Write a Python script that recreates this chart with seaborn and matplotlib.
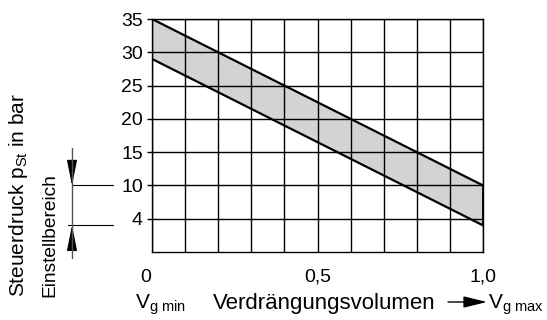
import numpy as np
import pandas as pd
import matplotlib
matplotlib.use("Agg")
import matplotlib.pyplot as plt
import matplotlib.transforms as mtransforms
from matplotlib.ticker import MultipleLocator, NullLocator, FixedLocator
import seaborn as sns

# Relative displacement V_g / V_g max
displacement = [0.0, 1.0]
# Control pressure band (bar): upper and lower limit
pressure_upper = [35.0, 10.0]
pressure_lower = [29.0, 3.2]

y_ticks = [4, 10, 15, 20, 25, 30, 35]
x_ticks = [0.0, 0.5, 1.0]
x_tick_labels = ["0", "0,5", "1,0"]

sns.set_theme(style="white")
plt.rcParams["font.family"] = ["Liberation Sans", "DejaVu Sans"]
plt.rcParams["mathtext.fontset"] = "custom"
plt.rcParams["mathtext.rm"] = "Liberation Sans"
plt.rcParams["mathtext.it"] = "Liberation Sans:italic"
plt.rcParams["mathtext.bf"] = "Liberation Sans:bold"

TICK_FS = 14
CAP_FS = 16


# Pressure axis: equal spacing per grid row, 0..4 / 4..10 / 10..35 bar
def p_to_pos(p):
    p = np.asarray(p, dtype=float)
    return np.where(p >= 10, 2 + (p - 10) / 5,
                    np.where(p >= 4, 1 + (p - 4) / 6, p / 4))


def pos_to_p(s):
    s = np.asarray(s, dtype=float)
    return np.where(s >= 2, 10 + (s - 2) * 5,
                    np.where(s >= 1, 4 + (s - 1) * 6, s * 4))


W, H = 547, 320
fig = plt.figure(figsize=(W / 100, H / 100), dpi=100)
ax = fig.add_axes([152 / W, 1 - 252 / H, 331 / W, 233 / H])

ax.set_yscale("function", functions=(p_to_pos, pos_to_p))
ax.set_xlim(0, 1)
ax.set_ylim(0, 35)

band = pd.DataFrame({
    "V": displacement * 2,
    "p": pressure_upper + pressure_lower,
    "edge": ["upper"] * len(displacement) + ["lower"] * len(displacement),
})

ax.fill_between(displacement, pressure_lower, pressure_upper,
                color="#d3d3d3", lw=0, zorder=1)
sns.lineplot(data=band, x="V", y="p", units="edge", estimator=None,
             color="black", lw=1.6, ax=ax, zorder=3, legend=False)
# closing edge of the band at full displacement
ax.plot([displacement[-1], displacement[-1]],
        [pressure_lower[-1], pressure_upper[-1]],
        color="black", lw=2.0, zorder=3, solid_capstyle="butt")

# grid
ax.set_axisbelow(False)
ax.xaxis.set_major_locator(FixedLocator(x_ticks))
ax.set_xticklabels(x_tick_labels)
ax.xaxis.set_minor_locator(MultipleLocator(0.1))
ax.yaxis.set_major_locator(FixedLocator(y_ticks))
ax.set_yticklabels([str(t) for t in y_ticks])
ax.yaxis.set_minor_locator(NullLocator())
ax.grid(True, axis="x", which="both", color="black", lw=1.0)
ax.grid(True, axis="y", which="major", color="black", lw=1.0)

for s in ax.spines.values():
    s.set_color("black")
    s.set_linewidth(1.0)

ax.tick_params(axis="y", which="major", left=True, direction="out",
               length=3.5, width=1.0, color="black", pad=3,
               labelsize=TICK_FS, labelcolor="black")
ax.tick_params(axis="x", which="both", bottom=False, length=0, pad=12,
               labelsize=TICK_FS, labelcolor="black")
ax.set_xlabel("")
ax.set_ylabel("")
# the zero label sits a little left of the axis corner
first = ax.get_xticklabels()[0]
first.set_transform(first.get_transform()
                    + mtransforms.ScaledTranslation(-0.06, 0, fig.dpi_scale_trans))

# axis captions
base_y = 1 - 309 / H
fig.text(135 / W, base_y, r"V$_{\mathrm{g\ min}}$", fontsize=CAP_FS - 1,
         ha="left", va="baseline", color="black")
fig.text(213 / W, base_y, "Verdrängungsvolumen", fontsize=CAP_FS,
         ha="left", va="baseline", color="black")
fig.text(488 / W, base_y, r"V$_{\mathrm{g\ max}}$", fontsize=CAP_FS - 1,
         ha="left", va="baseline", color="black")
fig.patches.append(matplotlib.patches.FancyArrowPatch(
    (448 / W, 1 - 302 / H), (487 / W, 1 - 302 / H),
    transform=fig.transFigure, arrowstyle="-|>,head_length=0.9,head_width=0.22",
    mutation_scale=16, color="black", lw=1.0, shrinkA=0, shrinkB=0))

fig.text(24 / W, 1 - 297 / H, r"Steuerdruck p$_{\mathrm{St}}$ in bar",
         fontsize=15, rotation=90, rotation_mode="anchor",
         ha="left", va="baseline", color="black")
fig.text(54 / W, 1 - 297 / H, "Einstellbereich",
         fontsize=13.8, rotation=90, rotation_mode="anchor",
         ha="left", va="baseline", color="black")

# adjustment range marker (x in figure, y in data)
blend = mtransforms.blended_transform_factory(fig.transFigure, ax.transData)
xm = 72 / W
for yv in (pressure_upper[-1], pressure_lower[-1]):
    ax.plot([68 / W if yv == pressure_lower[-1] else xm, 113 / W], [yv, yv],
            transform=blend, color="black", lw=0.8, clip_on=False)
ax.annotate("", xy=(xm, pressure_upper[-1]), xycoords=blend,
            xytext=(0, 16), textcoords="offset points",
            arrowprops=dict(arrowstyle="-|>,head_length=1.0,head_width=0.2",
                            mutation_scale=16, color="black", lw=0.8,
                            shrinkA=0, shrinkB=0), annotation_clip=False)
ax.annotate("", xy=(xm, pressure_lower[-1]), xycoords=blend,
            xytext=(0, -16), textcoords="offset points",
            arrowprops=dict(arrowstyle="-|>,head_length=1.0,head_width=0.2",
                            mutation_scale=16, color="black", lw=0.8,
                            shrinkA=0, shrinkB=0), annotation_clip=False)
fig.lines.append(matplotlib.lines.Line2D(
    [xm, xm], [1 - 148 / H, 1 - 258 / H], transform=fig.transFigure,
    color="#555555", lw=1.0))

fig.savefig("out.png", dpi=100, facecolor="white")
